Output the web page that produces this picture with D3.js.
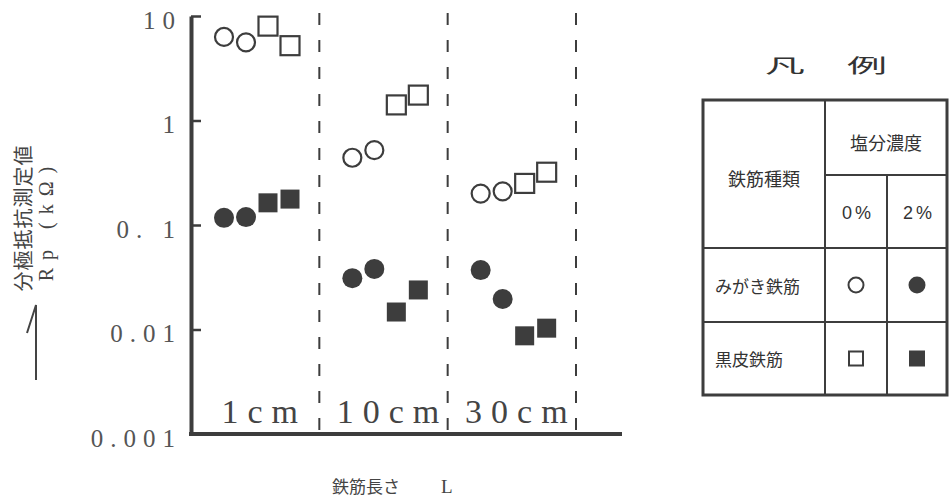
<!DOCTYPE html>
<html>
<head>
<meta charset="utf-8">
<script src="https://cdn.jsdelivr.net/npm/d3@7"></script>
<style>
  html, body { margin: 0; padding: 0; background: #fff; }
  svg { display: block; }
</style>
</head>
<body>
<div class="chart"></div>
<script>
// rebar length categories
const lengths = ['1cm', '10cm', '30cm'];
const tickValues = [10, 1, 0.1, 0.01, 0.001];
const tickLabels = ['10', '1', '0. 1', '0.01', '0.001'];

// Rp (kOhm), two specimens per length
const polished0 = [[6.3, 5.6], [0.44, 0.52], [0.20, 0.21]];
const polished2 = [[0.117, 0.119], [0.031, 0.038], [0.037, 0.0196]];
const black0 = [[8.0, 5.2], [1.41, 1.75], [0.25, 0.32]];
const black2 = [[0.163, 0.177], [0.0147, 0.0239], [0.0087, 0.0103]];

const legendRows = ['みがき鉄筋', '黒皮鉄筋'];
const legendCols = ['0%', '2%'];

const width = 950, height = 503;
const ink = '#3d3d3d';
const serif = '"Liberation Serif", "Times New Roman", serif';
const cjk = '"Noto Sans CJK JP", sans-serif';

const svg = d3.select('.chart').append('svg')
  .attr('width', width)
  .attr('height', height)
  .style('background', '#fff');

const x = d3.scaleBand().domain(lengths).range([191, 576]).padding(0);
const slot = d3.scalePoint().domain([0, 1, 2, 3]).range([33, 99]);
const y = d3.scaleLog().domain([0.001, 10]).range([434, 16]);

// y axis
const yAxis = d3.axisLeft(y)
  .tickValues(tickValues)
  .tickFormat((d, i) => tickLabels[i])
  .tickSizeInner(-10)
  .tickSizeOuter(0)
  .tickPadding(9);

const gy = svg.append('g')
  .attr('transform', 'translate(191,0)')
  .call(yAxis);
gy.select('.domain').attr('stroke', ink).attr('stroke-width', 4);
gy.selectAll('.tick line').attr('stroke', ink).attr('stroke-width', 2.5);
gy.selectAll('.tick text')
  .attr('dy', '0.48em')
  .style('font-family', serif)
  .style('font-size', '25px')
  .style('letter-spacing', '7px')
  .attr('fill', '#555');

// x axis line
svg.append('line')
  .attr('x1', 189).attr('x2', 622)
  .attr('y1', y(0.001)).attr('y2', y(0.001))
  .attr('stroke', ink).attr('stroke-width', 4);

// dashed separators
svg.selectAll('.sep')
  .data(lengths)
  .enter()
  .append('line')
  .attr('class', 'sep')
  .attr('x1', d => x(d) + x.bandwidth())
  .attr('x2', d => x(d) + x.bandwidth())
  .attr('y1', 13)
  .attr('y2', y(0.001))
  .attr('stroke', ink)
  .attr('stroke-width', 2)
  .attr('stroke-dasharray', '12,15');

// category labels
svg.selectAll('.cat')
  .data(lengths)
  .enter()
  .append('text')
  .attr('x', d => x(d) + x.bandwidth() / 2 + 9)
  .attr('y', 423)
  .attr('text-anchor', 'middle')
  .style('font-family', serif)
  .style('font-size', '34px')
  .style('letter-spacing', '9px')
  .attr('fill', '#444')
  .text(d => d);

// points
const series = [
  { values: polished0, shape: 'circle', filled: false, slots: [0, 1] },
  { values: polished2, shape: 'circle', filled: true, slots: [0, 1] },
  { values: black0, shape: 'square', filled: false, slots: [2, 3] },
  { values: black2, shape: 'square', filled: true, slots: [2, 3] }
];

const points = [];
series.forEach(s => {
  s.values.forEach((pair, ci) => {
    pair.forEach((v, k) => {
      points.push({ cat: lengths[ci], slot: s.slots[k], value: v, shape: s.shape, filled: s.filled });
    });
  });
});

const px = d => x(d.cat) + slot(d.slot);

svg.selectAll('.pt-c')
  .data(points.filter(d => d.shape === 'circle'))
  .enter()
  .append('circle')
  .attr('cx', px)
  .attr('cy', d => y(d.value))
  .attr('r', d => d.filled ? 10 : 9)
  .attr('fill', d => d.filled ? ink : '#fff')
  .attr('stroke', ink)
  .attr('stroke-width', d => d.filled ? 0 : 2.2);

svg.selectAll('.pt-s')
  .data(points.filter(d => d.shape === 'square'))
  .enter()
  .append('rect')
  .attr('x', d => px(d) - 9.5)
  .attr('y', d => y(d.value) - 9.5)
  .attr('width', 19)
  .attr('height', 19)
  .attr('fill', d => d.filled ? ink : '#fff')
  .attr('stroke', ink)
  .attr('stroke-width', d => d.filled ? 0 : 2.2);

// y title
const yt = svg.append('g');
yt.append('text')
  .attr('transform', 'translate(31,218) rotate(-90)')
  .attr('text-anchor', 'middle')
  .style('font-family', cjk)
  .style('font-size', '20px')
  .style('letter-spacing', '1px')
  .attr('fill', '#444')
  .text('分極抵抗測定値');
yt.append('text')
  .attr('transform', 'translate(53,220) rotate(-90)')
  .attr('text-anchor', 'middle')
  .style('font-family', serif)
  .style('font-size', '20px')
  .style('letter-spacing', '8px')
  .attr('fill', '#444')
  .text('Rp (kΩ)');
yt.append('path')
  .attr('d', 'M36,380 L36,305 L27,333')
  .attr('fill', 'none')
  .attr('stroke', '#444')
  .attr('stroke-width', 2);

// x title
svg.append('text')
  .attr('x', 332).attr('y', 493)
  .style('font-family', cjk)
  .style('font-size', '17px')
  .attr('fill', '#444')
  .text('鉄筋長さ');
svg.append('text')
  .attr('x', 441).attr('y', 493)
  .style('font-family', serif)
  .style('font-size', '19px')
  .attr('fill', '#444')
  .text('L');

// legend
const lg = svg.append('g');
lg.append('text').attr('x', 765).attr('y', 73)
  .attr('textLength', 40).attr('lengthAdjust', 'spacingAndGlyphs')
  .style('font-family', cjk).style('font-size', '19px').attr('fill', '#333')
  .text('凡');
lg.append('text').attr('x', 847).attr('y', 73)
  .attr('textLength', 40).attr('lengthAdjust', 'spacingAndGlyphs')
  .style('font-family', cjk).style('font-size', '19px').attr('fill', '#333')
  .text('例');

const L = { x0: 703, x1: 825, x2: 887, x3: 947, y0: 100, y1: 175, y2: 248, y3: 322, y4: 395 };
const seg = [
  [L.x1, L.y0, L.x1, L.y4],
  [L.x2, L.y1, L.x2, L.y4],
  [L.x1, L.y1, L.x3, L.y1],
  [L.x0, L.y2, L.x3, L.y2],
  [L.x0, L.y3, L.x3, L.y3]
];
lg.selectAll('.seg').data(seg).enter().append('line')
  .attr('x1', d => d[0]).attr('y1', d => d[1])
  .attr('x2', d => d[2]).attr('y2', d => d[3])
  .attr('stroke', ink).attr('stroke-width', 2);
lg.append('rect')
  .attr('x', L.x0).attr('y', L.y0)
  .attr('width', L.x3 - L.x0).attr('height', L.y4 - L.y0)
  .attr('fill', 'none').attr('stroke', ink).attr('stroke-width', 3);

const cell = (tx, ty, t, font, size, anchor) => lg.append('text')
  .attr('x', tx).attr('y', ty)
  .attr('text-anchor', anchor || 'middle')
  .attr('dominant-baseline', 'central')
  .style('font-family', font).style('font-size', size).attr('fill', '#333')
  .text(t);

cell(886, 142, '塩分濃度', cjk, '18px');
cell(764, 178, '鉄筋種類', cjk, '18px');
const colX = [(L.x1 + L.x2) / 2, (L.x2 + L.x3) / 2];
const rowY = [(L.y2 + L.y3) / 2, (L.y3 + L.y4) / 2];
legendCols.forEach((c, i) => {
  lg.append('text')
    .attr('x', colX[i] + 2).attr('y', 213)
    .attr('text-anchor', 'middle').attr('dominant-baseline', 'central')
    .style('font-family', '"Liberation Sans", sans-serif').style('font-size', '18px')
    .style('letter-spacing', '3px').attr('fill', '#333')
    .text(c);
});
legendRows.forEach((r, i) => cell(715, rowY[i], r, cjk, '17px', 'start'));

lg.append('circle').attr('cx', colX[0]).attr('cy', rowY[0]).attr('r', 7.5)
  .attr('fill', '#fff').attr('stroke', ink).attr('stroke-width', 2);
lg.append('circle').attr('cx', colX[1]).attr('cy', rowY[0]).attr('r', 8.5)
  .attr('fill', ink);
lg.append('rect').attr('x', colX[0] - 7).attr('y', rowY[1] - 7).attr('width', 14).attr('height', 14)
  .attr('fill', '#fff').attr('stroke', ink).attr('stroke-width', 2);
lg.append('rect').attr('x', colX[1] - 8).attr('y', rowY[1] - 8).attr('width', 16).attr('height', 16)
  .attr('fill', ink);
</script>
</body>
</html>
